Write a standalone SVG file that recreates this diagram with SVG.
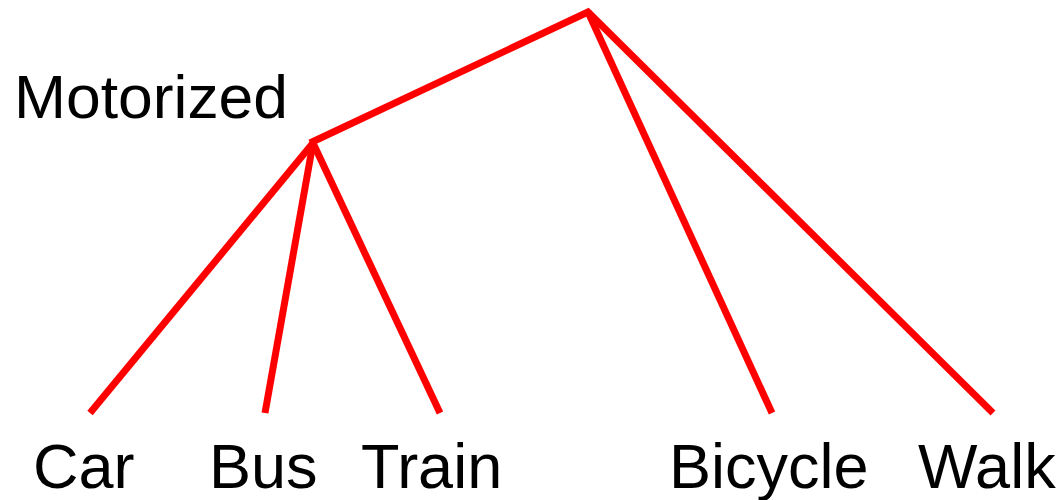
<svg xmlns="http://www.w3.org/2000/svg" width="1062" height="500" viewBox="0 0 1062 500">
  <style>
    .edge { stroke: #ff0000; stroke-width: 7; fill: none; stroke-linecap: butt; stroke-linejoin: miter; }
    .label { font-family: "Liberation Sans", Arial, sans-serif; fill: #000000; }
  </style>
  <rect width="1062" height="500" fill="#ffffff"/>
  <g id="connectors">
    <polyline class="edge" points="310,143 588,12 993,413"/>
    <line class="edge" x1="588" y1="12" x2="772" y2="413"/>
    <line class="edge" x1="313" y1="143" x2="90" y2="413"/>
    <line class="edge" x1="313" y1="143" x2="265" y2="413"/>
    <line class="edge" x1="313" y1="143" x2="440" y2="413"/>
  </g>
  <g id="node-motorized">
    <text class="label" x="14" y="118" font-size="62" textLength="274" lengthAdjust="spacingAndGlyphs">Motorized</text>
  </g>
  <g id="node-car">
    <text class="label" x="33" y="488" font-size="63">Car</text>
  </g>
  <g id="node-bus">
    <text class="label" x="209" y="488" font-size="63">Bus</text>
  </g>
  <g id="node-train">
    <text class="label" x="361" y="488" font-size="63">Train</text>
  </g>
  <g id="node-bicycle">
    <text class="label" x="669" y="488" font-size="63">Bicycle</text>
  </g>
  <g id="node-walk">
    <text class="label" x="918" y="488" font-size="63">Walk</text>
  </g>
</svg>
